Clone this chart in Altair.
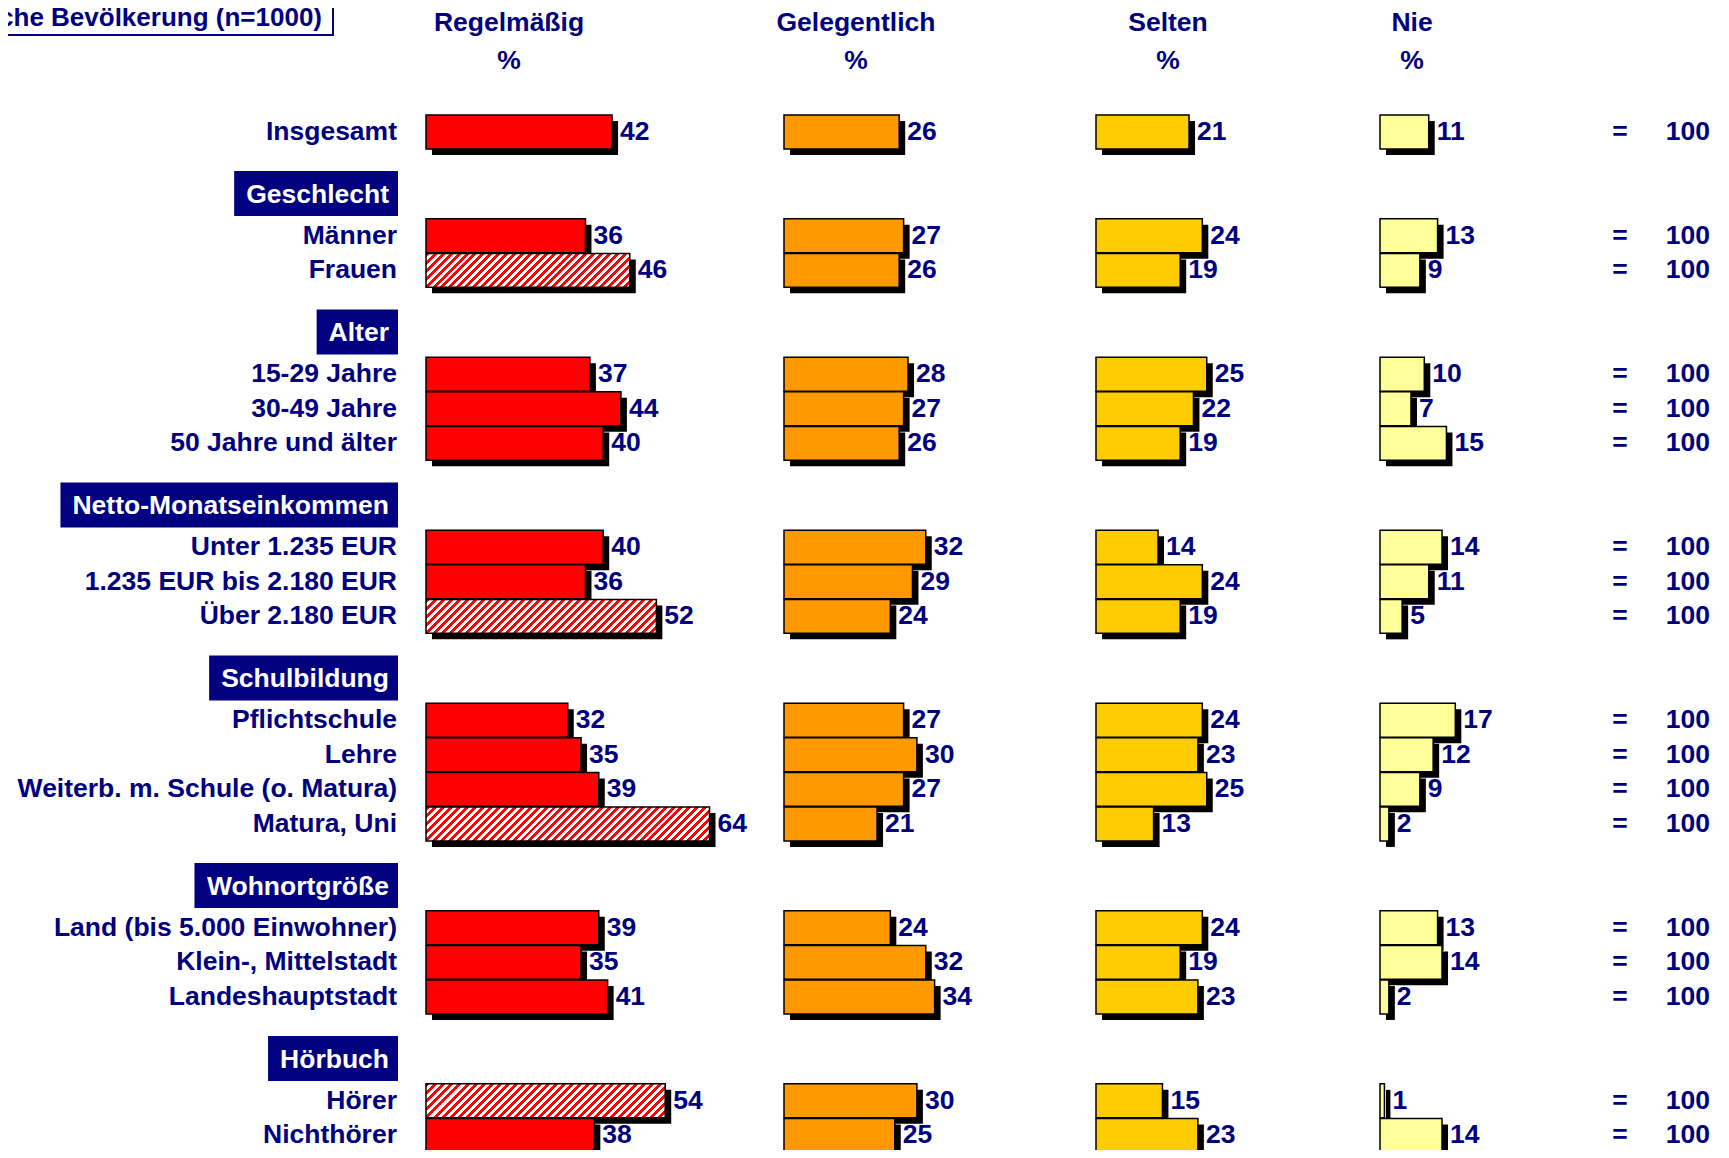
import altair as alt
import pandas as pd

# ---------------- data ----------------
rows = [
    "Insgesamt",
    "Männer", "Frauen",
    "15-29 Jahre", "30-49 Jahre", "50 Jahre und älter",
    "Unter 1.235 EUR", "1.235 EUR bis 2.180 EUR", "Über 2.180 EUR",
    "Pflichtschule", "Lehre", "Weiterb. m. Schule (o. Matura)", "Matura, Uni",
    "Land (bis 5.000 Einwohner)", "Klein-, Mittelstadt", "Landeshauptstadt",
    "Hörer", "Nichthörer",
]
groups = [
    None,
    "Geschlecht", "Geschlecht",
    "Alter", "Alter", "Alter",
    "Netto-Monatseinkommen", "Netto-Monatseinkommen", "Netto-Monatseinkommen",
    "Schulbildung", "Schulbildung", "Schulbildung", "Schulbildung",
    "Wohnortgröße", "Wohnortgröße", "Wohnortgröße",
    "Hörbuch", "Hörbuch",
]
regelmaessig = [42, 36, 46, 37, 44, 40, 40, 36, 52, 32, 35, 39, 64, 39, 35, 41, 54, 38]
gelegentlich = [26, 27, 26, 28, 27, 26, 32, 29, 24, 27, 30, 27, 21, 24, 32, 34, 30, 25]
selten = [21, 24, 19, 25, 22, 19, 14, 24, 19, 24, 23, 25, 13, 24, 19, 23, 15, 23]
nie = [11, 13, 9, 10, 7, 15, 14, 11, 5, 17, 12, 9, 2, 13, 14, 2, 1, 14]
hatched_rows = ["Frauen", "Über 2.180 EUR", "Matura, Uni", "Hörer"]
categories = ["Regelmäßig", "Gelegentlich", "Selten", "Nie"]
category_colors = ["#FF0000", "#FF9900", "#FFCC00", "#FFFF99"]
unit_label = "%"
eq_label = "="
total_label = "100"
title_text = "Österreichische Bevölkerung (n=1000)"

# ---------------- layout / style ----------------
W, H = 1713, 1142
PX = 4.43          # pixels per percentage point
ROW_PX = 34.6      # pixels per row
BAR_H = 0.98       # bar height in row units
NAVY = "#000080"
FONT = "Liberation Sans"
FS = 26.5
SHADOW = 6
PERIOD = 8.0       # hatch period (px, horizontal)
col_start_ref = [426, 784, 1096, 1380]
col_header_ref = [509, 856, 1168, 1412]

def u(px_ref):
    return (px_ref - 8) / PX

# Helvetica-Bold / Arial-Bold widths (per 1000 em) for header box sizing
AW = {" ": 278, "-": 333, "A": 722, "G": 778, "H": 722, "N": 722, "M": 833,
      "S": 667, "W": 944, "a": 556, "b": 611, "c": 556, "d": 611, "e": 556,
      "g": 611, "h": 611, "i": 278, "k": 556, "l": 278, "m": 889, "n": 611,
      "o": 611, "r": 389, "s": 556, "t": 333, "u": 611, "ö": 611, "ß": 611,
      "ü": 611, "ä": 556}

def text_w(s):
    return sum(AW.get(ch, 600) for ch in s) * FS / 1000.0

# row positions (row units)
pos, header_pos = [], {}
p, prev = None, "__start__"
for r, g in zip(rows, groups):
    if p is None:
        p = 0.0
    elif g != prev:
        p += 3.0
        header_pos[g] = p - 1.22
    else:
        p += 1.0
    pos.append(p)
    prev = g

Y0 = -124 / ROW_PX
Y1 = Y0 + H / ROW_PX
xs = alt.Scale(domain=[0, W / PX], nice=False, zero=False)
ys = alt.Scale(domain=[Y0, Y1], reverse=True, nice=False, zero=False)

recs = []
series = [regelmaessig, gelegentlich, selten, nie]
for i, r in enumerate(rows):
    for c, vals, start in zip(categories, series, col_start_ref):
        v = vals[i]
        recs.append(dict(row=r, pos=pos[i], category=c, value=v,
                         x0=u(start), x1=u(start) + v,
                         y0=pos[i] - BAR_H / 2, y1=pos[i] + BAR_H / 2,
                         hatched=bool(c == categories[0] and r in hatched_rows)))
bars = pd.DataFrame(recs)

X = alt.X("x0:Q", scale=xs, axis=None)
X2 = alt.X2("x1:Q")
Y = alt.Y("y0:Q", scale=ys, axis=None)
Y2 = alt.Y2("y1:Q")

shadow = alt.Chart(bars).mark_rect(
    color="#000000", xOffset=SHADOW, x2Offset=SHADOW, yOffset=SHADOW, y2Offset=SHADOW
).encode(x=X, x2=X2, y=Y, y2=Y2)

plain = alt.Chart(bars).transform_filter("!datum.hatched").mark_rect(
    stroke="#000000", strokeWidth=1.5
).encode(
    x=X, x2=X2, y=Y, y2=Y2,
    fill=alt.Fill("category:N", scale=alt.Scale(domain=categories, range=category_colors), legend=None),
)

def hatch(value):
    w = value * PX
    h = BAR_H * ROW_PX
    r = h / w
    s = (1 + r) / (1 + r * r)
    n = max(1, int(round((w + h) / PERIOD)))
    stops = []
    for k in range(n):
        a, b, c = k / n, (k + 0.5) / n, (k + 1) / n
        stops += [{"offset": a, "color": "#FF0000"}, {"offset": b, "color": "#FF0000"},
                  {"offset": b, "color": "#FFFFFF"}, {"offset": min(c, 1.0), "color": "#FFFFFF"}]
    return {"gradient": "linear", "x1": 0, "y1": 0, "x2": s, "y2": s * r, "stops": stops}

hatched_layers = []
hb = bars[bars["hatched"]]
for idx in hb.index:
    rname = hb.loc[idx, "row"]
    cname = hb.loc[idx, "category"]
    val = float(hb.loc[idx, "value"])
    sub = bars[(bars["row"] == rname) & (bars["category"] == cname)]
    hatched_layers.append(
        alt.Chart(sub).mark_rect(
            fill=hatch(val), stroke="#000000", strokeWidth=1.5
        ).encode(x=X, x2=X2, y=Y, y2=Y2)
    )

values = alt.Chart(bars).mark_text(
    align="left", baseline="middle", dx=8, font=FONT, fontSize=FS, fontWeight="bold", color=NAVY
).encode(x=alt.X("x1:Q", scale=xs, axis=None), y=alt.Y("pos:Q", scale=ys, axis=None), text="value:Q")

rowdf = pd.DataFrame({"row": rows, "pos": pos, "eq": eq_label, "tot": total_label})
txt = dict(baseline="middle", font=FONT, fontSize=FS, fontWeight="bold", color=NAVY)
row_labels = alt.Chart(rowdf).mark_text(align="right", **txt).encode(
    x=alt.value(389), y=alt.Y("pos:Q", scale=ys, axis=None), text="row:N")
eqs = alt.Chart(rowdf).mark_text(align="center", **txt).encode(
    x=alt.value(1612), y=alt.Y("pos:Q", scale=ys, axis=None), text="eq:N")
tots = alt.Chart(rowdf).mark_text(align="right", **txt).encode(
    x=alt.value(1702), y=alt.Y("pos:Q", scale=ys, axis=None), text="tot:N")

# group header boxes
gnames = [g for g in dict.fromkeys(groups) if g is not None]
gdf = pd.DataFrame({
    "g": gnames,
    "pos": [header_pos[g] for g in gnames],
    "bx0": [u(389 - text_w(g) - 12) for g in gnames],
    "bx1": [u(398) for g in gnames],
})
gdf["by0"] = gdf["pos"] - 0.65
gdf["by1"] = gdf["pos"] + 0.65
gboxes = alt.Chart(gdf).mark_rect(color=NAVY).encode(
    x=alt.X("bx0:Q", scale=xs, axis=None), x2="bx1:Q",
    y=alt.Y("by0:Q", scale=ys, axis=None), y2="by1:Q")
gtext = alt.Chart(gdf).mark_text(align="right", baseline="middle", dy=1, font=FONT, fontSize=FS,
                                 fontWeight="bold", color="#FFFFFF").encode(
    x=alt.value(381), y=alt.Y("pos:Q", scale=ys, axis=None), text="g:N")

# column headers
hdf = pd.DataFrame({"category": categories, "hx": [u(v) for v in col_header_ref], "unit": unit_label})
hdr1 = alt.Chart(hdf).mark_text(align="center", baseline="middle", font=FONT, fontSize=FS,
                                fontWeight="bold", color=NAVY).encode(
    x=alt.X("hx:Q", scale=xs, axis=None), y=alt.value(15), text="category:N")
hdr2 = alt.Chart(hdf).mark_text(align="center", baseline="middle", font=FONT, fontSize=FS,
                                fontWeight="bold", color=NAVY).encode(
    x=alt.X("hx:Q", scale=xs, axis=None), y=alt.value(53), text="unit:N")

# title box (clipped at the top-left edge)
tdf = pd.DataFrame({"t": [title_text]})
tbox = alt.Chart(tdf).mark_rect(fill="#FFFFFF", stroke=NAVY, strokeWidth=2).encode(
    x=alt.value(-30), x2=alt.value(325), y=alt.value(-30), y2=alt.value(27))
ttext = alt.Chart(tdf).mark_text(align="right", baseline="middle", font=FONT, fontSize=26,
                                 fontWeight="bold", color=NAVY).encode(
    x=alt.value(314), y=alt.value(10), text="t:N")

chart = alt.layer(
    tbox, ttext, hdr1, hdr2, gboxes, gtext, row_labels,
    shadow, plain, *hatched_layers, values, eqs, tots,
).properties(
    width=W, height=H, autosize=alt.AutoSizeParams(type="none"), padding=0, background="#FFFFFF"
).configure_view(stroke=None)

chart.save("out.html", embed_options={"renderer": "svg", "actions": False})
